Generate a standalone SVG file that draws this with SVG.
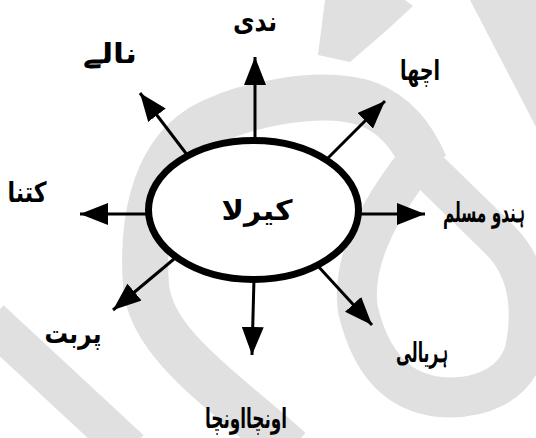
<svg xmlns="http://www.w3.org/2000/svg" width="536" height="438" viewBox="0 0 536 438">
<defs>
<style>
.wm{fill:none;stroke:#e0e0e0;stroke-linecap:butt;stroke-linejoin:round}
.wmf{fill:#e0e0e0;stroke:none}
.arr{stroke:#000;stroke-width:3;fill:none;marker-end:url(#ah)}
.lbl{font-family:"DejaVu Sans",sans-serif;font-size:28px;font-weight:bold;fill:#000;text-anchor:middle}
.hub{fill:#fff;stroke:#000;stroke-width:7}
</style>
<marker id="ah" markerUnits="userSpaceOnUse" markerWidth="28" markerHeight="22" refX="28" refY="11" orient="auto">
<path d="M0,0 L28,11 L0,22 z" fill="#000"/>
</marker>
</defs>
<rect width="536" height="438" fill="#fff"/>
<g id="watermark">
<path class="wm" stroke-width="46" d="M290,450 C230,395 150,345 146,285 C142,230 150,160 200,128 C240,105 320,88 368,104 C395,115 412,135 425,165"/>
<path class="wm" stroke-width="40" d="M418,160 L500,240 C525,265 535,300 525,350 C515,385 480,400 440,397 C395,392 370,360 358,310 C352,270 370,220 418,160"/>
<path class="wmf" d="M470,0 L536,0 L536,127 Z"/>
<path class="wmf" d="M325,0 L405,0 L413,6 L387,30 L350,62 L318,55 Z"/>
<path class="wm" stroke-width="40" d="M-10,320 L130,450"/>
</g>
<g id="connectors">
<line class="arr" x1="255" y1="145" x2="255" y2="57"/>
<line class="arr" x1="188" y1="156" x2="140" y2="93"/>
<line class="arr" x1="325" y1="161" x2="385" y2="101"/>
<line class="arr" x1="150" y1="214" x2="80" y2="214"/>
<line class="arr" x1="357" y1="214" x2="425" y2="214"/>
<line class="arr" x1="174" y1="259" x2="113" y2="310"/>
<line class="arr" x1="254" y1="278" x2="252" y2="355"/>
<line class="arr" x1="317" y1="265" x2="372" y2="325"/>
</g>
<g id="kerala">
<ellipse class="hub" cx="253.5" cy="210" rx="105" ry="69.5"/>
<text class="lbl" x="257" y="220" font-size="34" textLength="71" lengthAdjust="spacingAndGlyphs">کیرلا</text>
</g>
<g id="nadi"><text class="lbl" x="255" y="31" textLength="44" lengthAdjust="spacingAndGlyphs">ندی</text></g>
<g id="naale"><text class="lbl" x="110" y="63" textLength="54" lengthAdjust="spacingAndGlyphs">نالے</text></g>
<g id="achha"><text class="lbl" x="420" y="80" textLength="40" lengthAdjust="spacingAndGlyphs">اچھا</text></g>
<g id="kitna"><text class="lbl" x="27" y="202" textLength="39" lengthAdjust="spacingAndGlyphs">کتنا</text></g>
<g id="hindumuslim"><text class="lbl" x="484" y="222" font-size="26" textLength="82" lengthAdjust="spacingAndGlyphs">ہندو مسلم</text></g>
<g id="parbat"><text class="lbl" x="73" y="343" textLength="57" lengthAdjust="spacingAndGlyphs">پربت</text></g>
<g id="oonchaooncha"><text class="lbl" x="246" y="428" textLength="82" lengthAdjust="spacingAndGlyphs">اونچااونچا</text></g>
<g id="hariyali"><text class="lbl" x="422" y="362" textLength="52" lengthAdjust="spacingAndGlyphs">ہریالی</text></g>
</svg>
